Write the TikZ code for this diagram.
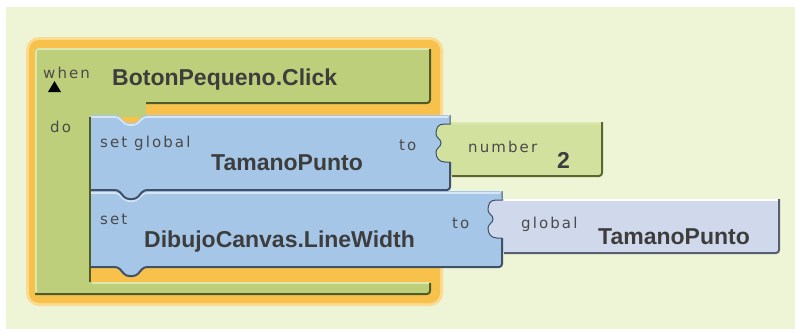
\documentclass[tikz,border=0pt]{standalone}
\usepackage{fontspec}
\newfontfamily\namefont{Liberation Sans}
\newfontfamily\lblfont[LetterSpace=14]{DejaVu Sans}

\definecolor{bgcol}{HTML}{EEF5D6}
\definecolor{glowcol}{HTML}{F8C14B}
\definecolor{glowsoft}{HTML}{FBDA92}
\definecolor{evgreen}{HTML}{BDCF7A}
\definecolor{evlight}{HTML}{DCE8AE}
\definecolor{evdark}{HTML}{4E5B2A}
\definecolor{setblue}{HTML}{A6C6E8}
\definecolor{setlight}{HTML}{D6E6F7}
\definecolor{setdark}{HTML}{3F5169}
\definecolor{numgreen}{HTML}{D3E19E}
\definecolor{numdark}{HTML}{5B6633}
\definecolor{globlav}{HTML}{D0D9EB}
\definecolor{globdark}{HTML}{575E70}
\definecolor{namegray}{HTML}{3D3D3D}
\definecolor{lblgray}{HTML}{4A4A4A}

\tikzset{
  blockname/.style={font={\namefont\bfseries\fontsize{23}{27}\selectfont}, text=namegray, inner sep=0pt, anchor=base west},
  blocklbl/.style={font={\lblfont\fontsize{15}{18}\selectfont}, text=lblgray, inner sep=0pt, anchor=base west},
  hilite/.style={line width=1.6pt, rounded corners=3pt},
  shadow/.style={line width=2pt, rounded corners=3pt},
}

\begin{document}
\begin{tikzpicture}[x=1pt,y=-1pt]
  \useasboundingbox (0,0) rectangle (795,330);
  \fill[white] (0,0) rectangle (795,330);
  \fill[bgcol] (6,7) rectangle (795,329);

  % selection glow
  \fill[glowsoft, rounded corners=13pt] (26,37) rectangle (443,306);
  \fill[glowcol, rounded corners=10pt] (29,40) rectangle (440,303);

  % event block
  \fill[evgreen, rounded corners=2pt] (35,48) -- (430,48) -- (430,103) -- (146,103) -- (146,117) -- (90,117) -- (90,282) -- (430,282) -- (430,294) -- (35,294) -- cycle;
  \draw[evlight, hilite] (36,292) -- (36,49) -- (429,49);
  \draw[evlight, hilite] (92,283) -- (429,283);
  \draw[evdark, shadow] (430,49) -- (430,103) -- (146,103);
  \draw[evdark, shadow] (430,283) -- (430,294) -- (35,294);
  \fill[black] (48,92) -- (61,92) -- (54.5,81) -- cycle;

  % value blocks
  \fill[numgreen] (434,122) rectangle (602,176);
  \draw[evlight, hilite] (452,123) -- (601,123);
  \draw[numdark, shadow] (602,122) -- (602,176) -- (452,176);
  \fill[globlav] (486,199) rectangle (779,253);
  \draw[white, hilite] (504,200) -- (778,200);
  \draw[globdark, shadow] (779,199) -- (779,253) -- (504,253);

  % set block 2
  \fill[setblue, rounded corners=3pt] (90,191) -- (118,191) -- (126,199) -- (136,199) -- (144,191) -- (502,191) -- (502,200) -- (496,200)
    .. controls (490,200) and (488,204) .. (488,210) .. controls (488,214) and (493,215) .. (493,219)
    .. controls (493,223) and (488,224) .. (488,228) .. controls (488,234) and (491,238) .. (497,238)
    -- (502,238) -- (502,267) -- (144,267) -- (136,276) -- (126,276) -- (118,267) -- (90,267) -- cycle;
  \draw[setlight, hilite] (91,193) -- (118,193) -- (126,201) -- (136,201) -- (144,193) -- (500,193);
  \draw[setdark, shadow] (90,267) -- (118,267) -- (126,276) -- (136,276) -- (144,267) -- (502,267) -- (502,238);
  \draw[setdark, line width=1pt] (502,191) -- (502,200) -- (496,200)
    .. controls (490,200) and (488,204) .. (488,210) .. controls (488,214) and (493,215) .. (493,219)
    .. controls (493,223) and (488,224) .. (488,228) .. controls (488,234) and (491,238) .. (497,238) -- (502,238);

  % set block 1
  \fill[setblue, rounded corners=3pt] (90,115) -- (118,115) -- (126,123) -- (136,123) -- (144,115) -- (450,115) -- (450,124) -- (444,124)
    .. controls (438,124) and (436,128) .. (436,134) .. controls (436,138) and (441,139) .. (441,143)
    .. controls (441,147) and (436,148) .. (436,152) .. controls (436,158) and (439,162) .. (445,162)
    -- (450,162) -- (450,190) -- (144,190) -- (136,199) -- (126,199) -- (118,190) -- (90,190) -- cycle;
  \draw[setlight, hilite] (91,117) -- (118,117) -- (126,125) -- (136,125) -- (144,117) -- (448,117);
  \draw[setdark, shadow] (90,190) -- (118,190) -- (126,199) -- (136,199) -- (144,190) -- (450,190) -- (450,162);
  \draw[setdark, line width=1pt] (450,115) -- (450,124) -- (444,124)
    .. controls (438,124) and (436,128) .. (436,134) .. controls (436,138) and (441,139) .. (441,143)
    .. controls (441,147) and (436,148) .. (436,152) .. controls (436,158) and (439,162) .. (445,162) -- (450,162);

  \draw[evdark, line width=1.5pt] (90,117) -- (90,282);

  % labels
  \node[blocklbl] (when) at (43,78) {when};
  \node[blockname] (evname) at (112,85) {BotonPequeno.Click};
  \node[blocklbl] (do) at (50,132) {do};
  \node[blocklbl] (setglobal) at (100,147) {set global};
  \node[blocklbl] (toA) at (399,150) {to};
  \node[blockname] (varname) at (211,170) {TamanoPunto};
  \node[blocklbl] (number) at (468,152) {number};
  \node[blockname] (numval) at (557,168) {2};
  \node[blocklbl] (set) at (100,224) {set};
  \node[blocklbl] (toB) at (452,228) {to};
  \node[blockname] (propname) at (144,247) {DibujoCanvas.LineWidth};
  \node[blocklbl] (global) at (521,228) {global};
  \node[blockname] (getname) at (598,244) {TamanoPunto};
\end{tikzpicture}
\end{document}
